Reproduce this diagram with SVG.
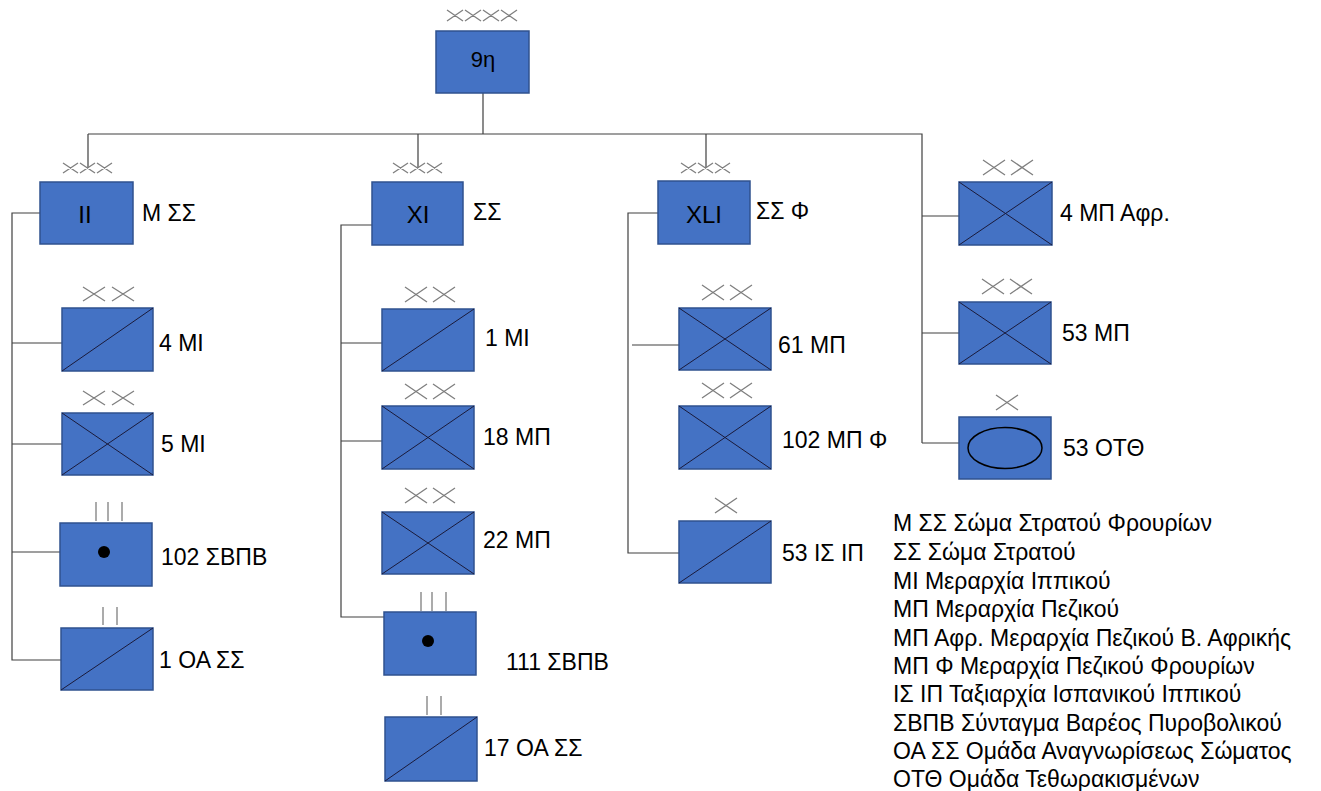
<svg xmlns="http://www.w3.org/2000/svg" width="1321" height="791" viewBox="0 0 1321 791">
<style>
.box{fill:#4472C4;stroke:#2F528F;stroke-width:1.5}
.in{stroke:#1a1a3a;stroke-width:1;fill:none}
.ech{stroke:#7f7f7f;stroke-width:1.3;fill:none}
.con{stroke:#404040;stroke-width:1.2;fill:none}
.lbl{font-family:"Liberation Sans",Arial,sans-serif;font-size:23px;fill:#000;dominant-baseline:central}
.big{font-family:"Liberation Sans",Arial,sans-serif;font-size:24px;fill:#000;text-anchor:middle;dominant-baseline:central}
.leg{font-family:"Liberation Sans",Arial,sans-serif;font-size:23px;fill:#000;dominant-baseline:central}
</style>
<rect width="1321" height="791" fill="#fff"/>
<g id="connectors" class="con">
<path d="M483 93V134M88 134H922V443M88 134V168M418 134V168M706 134V168"/>
<path d="M922 216H959M922 333H959M922 443H959"/>
<path d="M40 213H12V660H61M12 343H62M12 444H62M12 552H60"/>
<path d="M372 225H341V617H384M341 343H382M341 441H382"/>
<path d="M658 213H628V553H679M632 345H679"/>
</g>
<g id="n9">
<rect class="box" x="436" y="31" width="93" height="62"/>
<text class="big" x="483" y="59" style="font-size:22px">9η</text>
<path class="ech" d="M447 10l16 11M463 10l-16 11M465 10l16 11M481 10l-16 11M483 10l16 11M499 10l-16 11M501 10l16 11M517 10l-16 11"/>
</g>
<g id="nII">
<rect class="box" x="40" y="182" width="93" height="62"/>
<text class="big" x="85" y="214">II</text>
<text class="lbl" x="142" y="213">Μ ΣΣ</text>
<path class="ech" d="M63 163l15 10M78 163l-15 10M80 163l15 10M95 163l-15 10M97 163l15 10M112 163l-15 10"/>
</g>
<g id="n4MI">
<rect class="box" x="62" y="308" width="91" height="63"/>
<path class="in" d="M62 371L153 308"/>
<text class="lbl" x="159" y="343">4 ΜΙ</text>
<path class="ech" d="M83 287l22 14M105 287l-22 14M112 287l22 14M134 287l-22 14"/>
</g>
<g id="n5MI">
<rect class="box" x="62" y="413" width="91" height="62"/>
<path class="in" d="M62 413L153 475M62 475L153 413"/>
<text class="lbl" x="161" y="444">5 ΜΙ</text>
<path class="ech" d="M83 391l22 14M105 391l-22 14M112 391l22 14M134 391l-22 14"/>
</g>
<g id="n102SBPB">
<rect class="box" x="60" y="523" width="92" height="63"/>
<circle cx="104" cy="552" r="6" fill="#000"/>
<text class="lbl" x="161" y="557">102 ΣΒΠΒ</text>
<path class="ech" d="M96 502V521M108 502V521M122 502V521"/>
</g>
<g id="n1OASS">
<rect class="box" x="61" y="628" width="92" height="62"/>
<path class="in" d="M61 690L153 628"/>
<text class="lbl" x="159" y="660">1 ΟΑ ΣΣ</text>
<path class="ech" d="M103 607V625M117 607V625"/>
</g>
<g id="nXI">
<rect class="box" x="372" y="182" width="91" height="63"/>
<text class="big" x="418" y="214">XI</text>
<text class="lbl" x="473" y="212">ΣΣ</text>
<path class="ech" d="M393 163l15 10M408 163l-15 10M410 163l15 10M425 163l-15 10M427 163l15 10M442 163l-15 10"/>
</g>
<g id="n1MI">
<rect class="box" x="382" y="309" width="92" height="62"/>
<path class="in" d="M382 371L474 309"/>
<text class="lbl" x="485" y="338">1 ΜΙ</text>
<path class="ech" d="M405 287l22 15M427 287l-22 15M433 287l22 15M455 287l-22 15"/>
</g>
<g id="n18MP">
<rect class="box" x="382" y="406" width="92" height="63"/>
<path class="in" d="M382 406L474 469M382 469L474 406"/>
<text class="lbl" x="483" y="437">18 ΜΠ</text>
<path class="ech" d="M405 384l22 15M427 384l-22 15M433 384l22 15M455 384l-22 15"/>
</g>
<g id="n22MP">
<rect class="box" x="382" y="512" width="92" height="62"/>
<path class="in" d="M382 512L474 574M382 574L474 512"/>
<text class="lbl" x="483" y="540">22 ΜΠ</text>
<path class="ech" d="M405 488l22 15M427 488l-22 15M433 488l22 15M455 488l-22 15"/>
</g>
<g id="n111SBPB">
<rect class="box" x="384" y="612" width="92" height="63"/>
<circle cx="428" cy="641" r="6" fill="#000"/>
<text class="lbl" x="506" y="662">111 ΣΒΠΒ</text>
<path class="ech" d="M421 592V611M432 592V611M446 592V611"/>
</g>
<g id="n17OASS">
<rect class="box" x="385" y="717" width="92" height="64"/>
<path class="in" d="M385 781L477 717"/>
<text class="lbl" x="484" y="748">17 ΟΑ ΣΣ</text>
<path class="ech" d="M427 696V715M441 696V715"/>
</g>
<g id="nXLI">
<rect class="box" x="658" y="181" width="92" height="63"/>
<text class="big" x="704" y="214">XLI</text>
<text class="lbl" x="756" y="211">ΣΣ Φ</text>
<path class="ech" d="M681 163l15 10M696 163l-15 10M698 163l15 10M713 163l-15 10M715 163l15 10M730 163l-15 10"/>
</g>
<g id="n61MP">
<rect class="box" x="679" y="308" width="92" height="62"/>
<path class="in" d="M679 308L771 370M679 370L771 308"/>
<text class="lbl" x="778" y="345">61 ΜΠ</text>
<path class="ech" d="M702 285l22 15M724 285l-22 15M730 285l22 15M752 285l-22 15"/>
</g>
<g id="n102MPF">
<rect class="box" x="679" y="406" width="92" height="63"/>
<path class="in" d="M679 406L771 469M679 469L771 406"/>
<text class="lbl" x="782" y="440">102 ΜΠ Φ</text>
<path class="ech" d="M702 383l22 15M724 383l-22 15M730 383l22 15M752 383l-22 15"/>
</g>
<g id="n53ISIP">
<rect class="box" x="679" y="521" width="92" height="62"/>
<path class="in" d="M679 583L771 521"/>
<text class="lbl" x="782" y="553">53 ΙΣ ΙΠ</text>
<path class="ech" d="M715 498l22 15M737 498l-22 15"/>
</g>
<g id="n4MPAfr">
<rect class="box" x="959" y="182" width="93" height="63"/>
<path class="in" d="M959 182L1052 245M959 245L1052 182"/>
<text class="lbl" x="1060" y="213">4 ΜΠ Αφρ.</text>
<path class="ech" d="M983 160l22 15M1005 160l-22 15M1011 160l22 15M1033 160l-22 15"/>
</g>
<g id="n53MP">
<rect class="box" x="959" y="302" width="92" height="62"/>
<path class="in" d="M959 302L1051 364M959 364L1051 302"/>
<text class="lbl" x="1062" y="333">53 ΜΠ</text>
<path class="ech" d="M982 279l22 15M1004 279l-22 15M1010 279l22 15M1032 279l-22 15"/>
</g>
<g id="n53OTTh">
<rect class="box" x="959" y="417" width="92" height="62"/>
<ellipse cx="1005" cy="448" rx="37" ry="20.5" fill="#4472C4" stroke="#000" stroke-width="1.5"/>
<text class="lbl" x="1063" y="448">53 ΟΤΘ</text>
<path class="ech" d="M996 395l22 15M1018 395l-22 15"/>
</g>
<g id="legend">
<text class="leg" x="893" y="523">Μ ΣΣ Σώμα Στρατού Φρουρίων</text>
<text class="leg" x="893" y="552">ΣΣ Σώμα Στρατού</text>
<text class="leg" x="893" y="581">ΜΙ Μεραρχία Ιππικού</text>
<text class="leg" x="893" y="609">ΜΠ Μεραρχία Πεζικού</text>
<text class="leg" x="893" y="638">ΜΠ Αφρ. Μεραρχία Πεζικού Β. Αφρικής</text>
<text class="leg" x="893" y="666">ΜΠ Φ Μεραρχία Πεζικού Φρουρίων</text>
<text class="leg" x="893" y="694">ΙΣ ΙΠ Ταξιαρχία Ισπανικού Ιππικού</text>
<text class="leg" x="893" y="723">ΣΒΠΒ Σύνταγμα Βαρέος Πυροβολικού</text>
<text class="leg" x="893" y="751">ΟΑ ΣΣ Ομάδα Αναγνωρίσεως Σώματος</text>
<text class="leg" x="893" y="779">ΟΤΘ Ομάδα Τεθωρακισμένων</text>
</g>
</svg>
